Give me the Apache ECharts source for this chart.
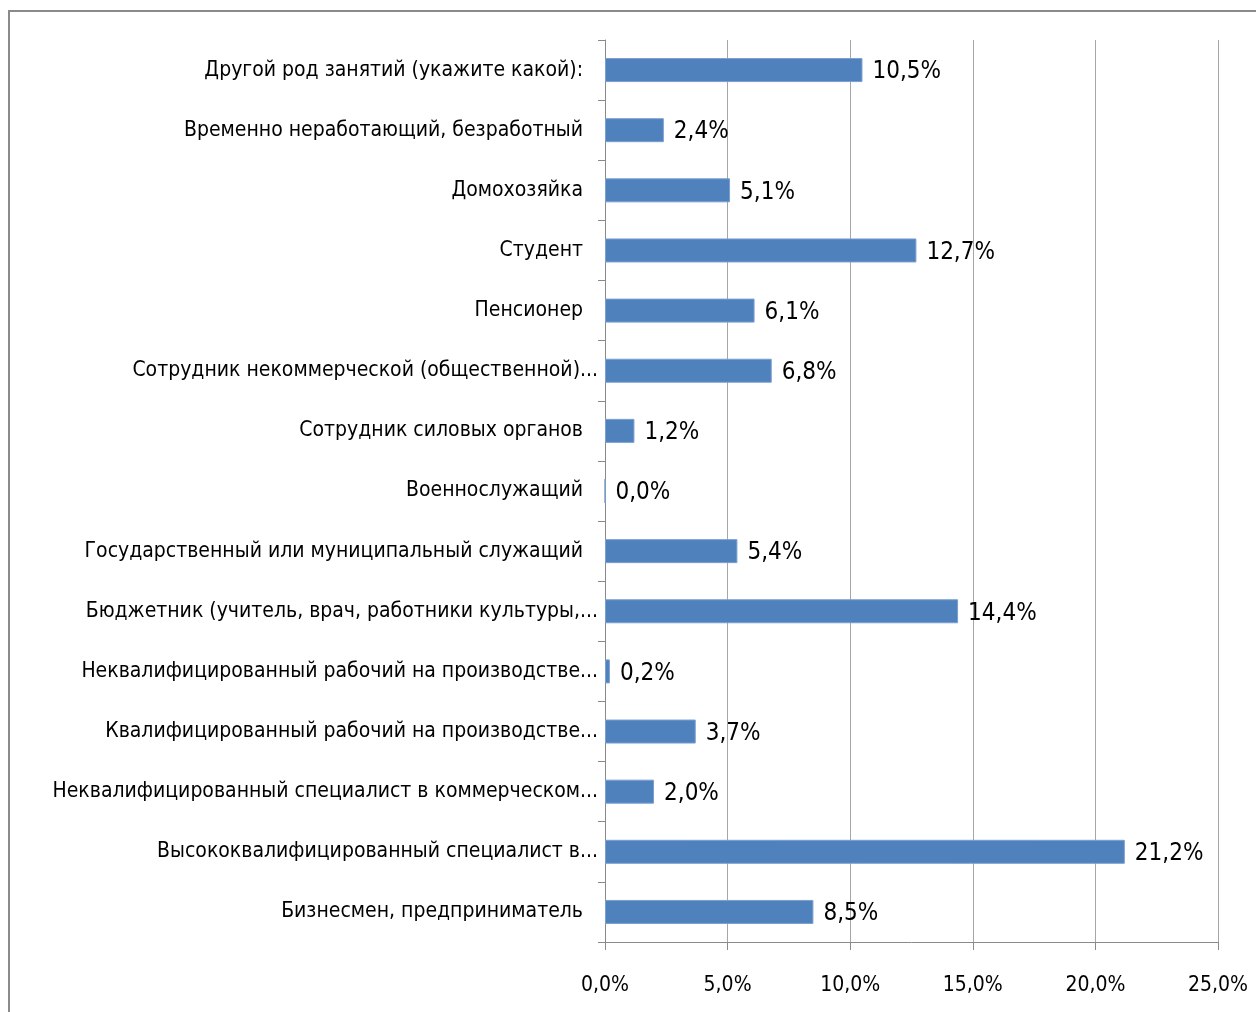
<!DOCTYPE html>
<html>
<head>
<meta charset="utf-8">
<script src="https://cdn.jsdelivr.net/npm/echarts@6/dist/echarts.min.js"></script>
<style>
  html, body { margin: 0; padding: 0; background: #fff; }
  #main { width: 1256px; height: 1012px; }
  #frame {
    position: absolute; left: 8px; top: 10px; width: 1300px; height: 1100px;
    border-top: 2px solid #8a8a8a; border-left: 2px solid #8a8a8a;
    pointer-events: none;
  }
</style>
</head>
<body>
<div id="main"></div>
<div id="frame"></div>
<script>
// категории сверху вниз
var categories = [
  'Другой род занятий (укажите какой):',
  'Временно неработающий, безработный',
  'Домохозяйка',
  'Студент',
  'Пенсионер',
  'Сотрудник некоммерческой (общественной)...',
  'Сотрудник силовых органов',
  'Военнослужащий',
  'Государственный или муниципальный служащий',
  'Бюджетник (учитель, врач, работники культуры,...',
  'Неквалифицированный рабочий на производстве...',
  'Квалифицированный рабочий на производстве...',
  'Неквалифицированный специалист в коммерческом...',
  'Высококвалифицированный специалист в...',
  'Бизнесмен, предприниматель'
];
var shares = [10.5, 2.4, 5.1, 12.7, 6.1, 6.8, 1.2, 0.0, 5.4, 14.4, 0.2, 3.7, 2.0, 21.2, 8.5];
var xTicks = [0, 5, 10, 15, 20, 25];

var FONT = "'DejaVu Sans Condensed', 'Liberation Sans Narrow', sans-serif";

function pct(v) {
  return Number(v).toFixed(1).replace('.', ',') + '%';
}

var chart = echarts.init(document.getElementById('main'));

var option = {
  animation: false,
  grid: { left: 605, right: 38, top: 40, bottom: 70, containLabel: false, outerBoundsMode: 'none' },
  xAxis: {
    type: 'value',
    min: xTicks[0],
    max: xTicks[xTicks.length - 1],
    interval: 5,
    axisLine: { show: true, lineStyle: { color: '#8a8a8a', width: 1 } },
    axisTick: { show: true, length: 8, lineStyle: { color: '#8a8a8a' } },
    splitLine: { show: true, lineStyle: { color: '#a6a6a6', width: 1 } },
    axisLabel: {
      formatter: pct, color: '#000', fontFamily: FONT, fontSize: 21, margin: 33
    }
  },
  yAxis: {
    type: 'category',
    inverse: true,
    data: categories,
    axisLine: { show: true, lineStyle: { color: '#8a8a8a', width: 1 } },
    axisTick: { show: true, length: 7, lineStyle: { color: '#8a8a8a' } },
    axisLabel: {
      color: '#000', fontFamily: FONT, fontSize: 21, margin: 7,
      // обрезанные подписи в оригинале стоят ближе к оси
      formatter: function (v) {
        return /\.\.\.$/.test(v) ? '{e|' + v + '}' : '{n|' + v + '}';
      },
      rich: {
        e: { fontFamily: FONT, fontSize: 21, color: '#000' },
        n: { fontFamily: FONT, fontSize: 21, color: '#000', padding: [0, 15, 0, 0] }
      }
    }
  },
  series: [{
    type: 'bar',
    data: shares,
    barWidth: 24,
    itemStyle: { color: '#4f81bd', borderColor: '#7a9fd0', borderWidth: 1 },
    label: {
      show: true,
      position: 'right',
      distance: 10,
      formatter: function (p) { return pct(p.value); },
      color: '#000',
      fontFamily: FONT,
      fontSize: 24,
      offset: [0, 2]
    }
  }]
};

chart.setOption(option);
</script>
</body>
</html>
